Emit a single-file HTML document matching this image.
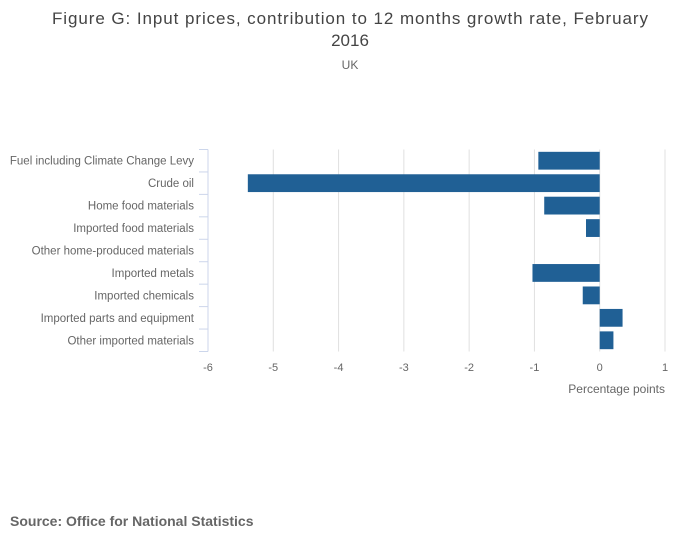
<!DOCTYPE html>
<html><head><meta charset="utf-8"><style>
body{margin:0;background:#fff;font-family:"Liberation Sans",sans-serif;}
</style></head><body>
<svg width="700" height="549" xmlns="http://www.w3.org/2000/svg" font-family="Liberation Sans, sans-serif">
<text x="350" y="24" text-anchor="middle" font-size="17" fill="#444" textLength="596">Figure G: Input prices, contribution to 12 months growth rate, February</text>
<text x="350" y="46" text-anchor="middle" font-size="17" fill="#444">2016</text>
<text x="350" y="69" text-anchor="middle" font-size="12" fill="#666">UK</text>
<g id="grid"></g><g id="bars"></g><g id="yaxis"></g><g id="xaxis"></g>
<text x="665" y="393" text-anchor="end" font-size="12" fill="#666">Percentage points</text>
<text x="10" y="526" font-size="14" font-weight="bold" fill="#666">Source: Office for National Statistics</text>
</svg>
<script>
const categories=["Fuel including Climate Change Levy","Crude oil","Home food materials","Imported food materials","Other home-produced materials","Imported metals","Imported chemicals","Imported parts and equipment","Other imported materials"];
const values=[-0.94,-5.39,-0.85,-0.21,0,-1.03,-0.26,0.35,0.21];
const ticks=[-6,-5,-4,-3,-2,-1,0,1];
const NS="http://www.w3.org/2000/svg";
const x0=208,x1=665,yTop=149.5,yBot=351.5,band=(yBot-yTop)/categories.length;
const xs=v=>x0+(v+6)/7*(x1-x0);
function mk(tag,attrs,parent){const e=document.createElementNS(NS,tag);for(const k in attrs)e.setAttribute(k,attrs[k]);document.getElementById(parent).appendChild(e);return e;}
ticks.forEach(t=>{
  if(t!==-6){const g=mk('line',{x1:xs(t),x2:xs(t),y1:yTop,y2:yBot,stroke:'#e0e0e0','stroke-width':1},'grid');
  
  }
  const l=mk('text',{x:xs(t),y:371,'text-anchor':'middle','font-size':11,fill:'#666'},'xaxis');l.textContent=t;
  
  
});
const ax=mk('line',{x1:x0,x2:x0,y1:yTop,y2:yBot,stroke:'#ccd6eb','stroke-width':1},'yaxis');


for(let i=0;i<=categories.length;i++){const y=yTop+i*band;const tk=mk('line',{x1:x0-9,x2:x0,y1:y,y2:y,stroke:'#ccd6eb'},'yaxis');

}
categories.forEach((c,i)=>{
  const yc=yTop+(i+0.5)*band;
  const t=mk('text',{x:194,y:yc+4,'text-anchor':'end','font-size':11.5,fill:'#666'},'yaxis');t.textContent=c;
  
  
  const v=values[i];if(v===0)return;
  const a=Math.min(xs(v),xs(0)),w=Math.abs(xs(v)-xs(0));
  const r=mk('rect',{x:a,y:yc-8.9,width:w,height:17.8,fill:'#206095'},'bars');
  
  
});
</script>
</body></html>
